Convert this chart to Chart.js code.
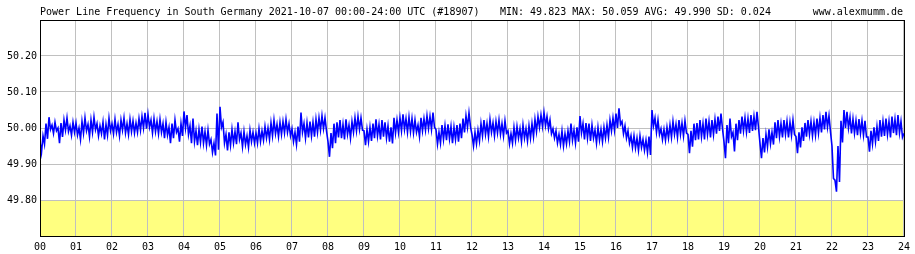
<!DOCTYPE html>
<html>
<head>
<meta charset="utf-8">
<script src="https://cdn.jsdelivr.net/npm/chart.js@4/dist/chart.umd.min.js"></script>
<style>
  html, body { margin: 0; padding: 0; background: #ffffff; }
  #wrap { width: 915px; height: 254px; }
</style>
</head>
<body>
<div id="wrap"><canvas id="c" width="915" height="254"></canvas></div>
<script>
// ---- texts ----
const titleText = 'Power Line Frequency in South Germany 2021-10-07 00:00-24:00 UTC (#18907)';
const statsText = 'MIN: 49.823 MAX: 50.059 AVG: 49.990 SD: 0.024';
const siteText = 'www.alexmumm.de';

// ---- axis tick labels ----
const hourLabels = ['00','01','02','03','04','05','06','07','08','09','10','11','12',
                    '13','14','15','16','17','18','19','20','21','22','23','24'];
const yTickValues = [49.80, 49.90, 50.00, 50.10, 50.20];
const limitValue = 49.80; // top of the yellow band

// ---- frequency (Hz): upper / lower edge of the noisy trace, one value per 5 minutes (12 per hour) ----
const bandHigh = [
  49.962,49.978,50.012,50.030,50.008,50.016,50.000,50.014,50.022,50.028,50.006,50.016, // 00
  50.014,50.000,50.018,50.028,50.010,50.022,50.030,50.012,50.006,50.016,50.010,50.027, // 01
  50.012,50.024,50.010,50.022,50.028,50.012,50.024,50.020,50.014,50.026,50.032,50.042, // 02
  50.038,50.022,50.026,50.018,50.024,50.012,50.016,50.002,50.012,50.022,49.998,50.012, // 03
  50.046,50.036,50.006,50.026,49.992,49.996,50.004,49.990,49.994,49.968,49.958,50.040, // 04
  50.059,50.016,49.982,49.988,49.996,49.990,50.016,49.986,49.990,49.978,49.994,49.988, // 05
  49.986,49.998,49.992,50.004,50.000,50.014,50.022,50.010,50.016,50.018,50.024,50.012, // 06
  49.998,49.988,50.004,50.043,50.012,50.014,50.018,50.016,50.024,50.028,50.034,50.028, // 07
  49.962,49.986,50.012,50.016,50.022,50.010,50.024,50.008,50.018,50.028,50.032,50.028, // 08
  49.992,49.996,50.002,50.012,50.024,50.010,50.022,50.016,50.006,50.002,50.028,50.022, // 09
  50.028,50.038,50.026,50.030,50.026,50.022,50.008,50.028,50.026,50.034,50.032,50.043, // 10
  49.996,49.988,50.008,50.006,50.010,50.004,50.002,50.008,50.012,50.026,50.034,50.042, // 11
  49.982,49.988,49.994,50.012,50.022,50.012,50.024,50.014,50.018,50.022,50.012,50.020, // 12
  49.992,49.984,50.002,50.004,49.998,50.008,49.998,50.006,50.012,50.024,50.032,50.036, // 13
  50.043,50.032,50.022,49.998,49.992,49.982,49.992,49.984,49.992,50.012,49.994,50.002, // 14
  50.033,50.012,50.014,50.012,50.008,49.994,50.002,49.996,50.002,50.008,50.022,50.028, // 15
  50.040,50.055,50.018,50.006,49.992,49.978,49.978,49.972,49.978,49.968,49.966,49.976, // 16
  50.050,50.028,50.022,49.998,49.996,50.002,50.008,50.018,50.010,50.022,50.014,50.020, // 17
  49.982,49.992,50.012,50.014,50.022,50.012,50.026,50.018,50.022,50.024,50.032,50.040, // 18
  49.962,50.008,50.026,49.988,50.012,50.022,50.032,50.028,50.026,50.036,50.032,50.045, // 19
  49.958,49.972,49.982,49.996,49.988,50.016,50.022,50.012,50.022,50.018,50.016,50.022, // 20
  49.976,49.988,50.002,50.014,50.022,50.018,50.016,50.026,50.028,50.036,50.045,50.034, // 21
  49.950,49.855,49.950,50.020,50.050,50.045,50.030,50.025,50.020,50.025,50.020,50.020, // 22
  49.975,49.992,50.002,50.004,50.022,50.018,50.026,50.018,50.032,50.024,50.036,50.018  // 23
];
const bandLow = [
  49.932,49.955,49.970,49.996,49.985,49.992,49.958,49.975,49.994,49.990,49.980,49.988, // 00
  49.980,49.968,49.985,49.992,49.976,49.988,49.995,49.978,49.984,49.968,49.980,49.992, // 01
  49.984,49.988,49.978,49.994,49.986,49.982,49.990,49.986,49.988,49.994,50.000,49.998, // 02
  50.002,49.986,49.990,49.984,49.988,49.972,49.980,49.958,49.972,49.988,49.962,49.978, // 03
  50.000,49.982,49.958,49.962,49.952,49.960,49.958,49.952,49.955,49.932,49.924,49.940, // 04
  50.002,49.958,49.938,49.952,49.958,49.955,49.968,49.948,49.954,49.946,49.962,49.958, // 05
  49.958,49.962,49.966,49.972,49.968,49.978,49.984,49.976,49.982,49.986,49.988,49.978, // 06
  49.962,49.954,49.962,49.988,49.972,49.974,49.978,49.976,49.988,49.994,49.998,49.992, // 07
  49.920,49.944,49.958,49.974,49.972,49.968,49.982,49.972,49.988,49.992,49.996,49.994, // 08
  49.952,49.962,49.964,49.972,49.978,49.968,49.976,49.972,49.962,49.957,49.986,49.988, // 09
  49.992,49.996,49.988,49.990,49.986,49.988,49.976,49.992,49.994,49.998,49.996,50.002, // 10
  49.955,49.958,49.968,49.966,49.970,49.958,49.968,49.962,49.972,49.988,50.002,50.004, // 11
  49.950,49.956,49.964,49.978,49.982,49.976,49.988,49.978,49.986,49.982,49.978,49.986, // 12
  49.956,49.958,49.966,49.972,49.962,49.972,49.964,49.972,49.976,49.990,50.002,50.004, // 13
  50.006,49.998,49.984,49.972,49.958,49.954,49.950,49.956,49.962,49.966,49.958,49.962, // 14
  49.986,49.968,49.972,49.964,49.972,49.958,49.966,49.962,49.972,49.974,49.992,49.994, // 15
  50.000,50.010,49.984,49.972,49.958,49.946,49.944,49.938,49.946,49.938,49.932,49.925, // 16
  50.006,49.988,49.982,49.968,49.966,49.972,49.974,49.982,49.974,49.982,49.978,49.986, // 17
  49.930,49.948,49.966,49.968,49.976,49.968,49.982,49.974,49.982,49.984,49.992,49.998, // 18
  49.916,49.958,49.976,49.935,49.966,49.984,49.992,49.988,49.986,49.992,49.994,50.002, // 19
  49.916,49.932,49.948,49.956,49.954,49.972,49.976,49.974,49.982,49.974,49.980,49.982, // 20
  49.930,49.946,49.964,49.976,49.982,49.978,49.980,49.986,49.988,49.996,50.002,49.990, // 21
  49.860,49.823,49.850,49.960,50.000,50.000,49.985,49.985,49.980,49.985,49.980,49.975, // 22
  49.934,49.956,49.962,49.964,49.976,49.978,49.982,49.974,49.986,49.980,49.986,49.974  // 23
];
const endValue = 49.985; // value at 24:00

// ---- build the point table (x in hours) ----
const points = [];
for (let i = 0; i < bandHigh.length; i++) {
  const t = i / 12;
  points.push({ x: t, y: bandHigh[i] });
  points.push({ x: t + 1 / 24, y: bandLow[i] });
}
points.push({ x: 24, y: endValue });

const MONO = '"DejaVu Sans Mono", "Liberation Mono", monospace';

const decor = {
  id: 'decor',
  beforeDraw(chart) {
    const ctx = chart.ctx;
    const { left, right, top, bottom } = chart.chartArea;
    const ys = chart.scales.y;
    ctx.save();
    ctx.fillStyle = '#ffffff';
    ctx.fillRect(0, 0, chart.width, chart.height);
    const yTop = ys.getPixelForValue(limitValue);
    ctx.fillStyle = '#ffff80';
    ctx.fillRect(left, yTop, right - left, bottom - yTop);
    ctx.restore();
  },
  afterDraw(chart) {
    const ctx = chart.ctx;
    const { left, right, top, bottom } = chart.chartArea;
    ctx.save();
    ctx.strokeStyle = '#000000';
    ctx.lineWidth = 1;
    ctx.strokeRect(Math.round(left) + 0.5, Math.round(top) + 0.5,
                   Math.round(right - left), Math.round(bottom - top));
    ctx.fillStyle = '#000000';
    ctx.font = '10px ' + MONO;
    ctx.textBaseline = 'middle';
    ctx.textAlign = 'left';
    ctx.fillText(titleText, left, 12);
    ctx.fillText(statsText, 500, 12);
    ctx.textAlign = 'right';
    ctx.fillText(siteText, right - 1, 12);
    ctx.restore();
  }
};

new Chart(document.getElementById('c'), {
  type: 'line',
  data: {
    datasets: [{
      data: points,
      borderColor: '#0000ff',
      borderWidth: 1.6,
      pointRadius: 0,
      tension: 0,
      fill: false
    }]
  },
  options: {
    responsive: false,
    animation: false,
    events: [],
    parsing: false,
    normalized: true,
    layout: { padding: { left: 0, right: 11, top: 20, bottom: 0 } },
    plugins: { legend: { display: false }, tooltip: { enabled: false }, title: { display: false } },
    scales: {
      x: {
        type: 'linear',
        min: 0, max: 24,
        afterFit(s) { s.height = 18; },
        afterBuildTicks(s) { s.ticks = hourLabels.map((_, i) => ({ value: i })); },
        grid: { color: '#c0c0c0', lineWidth: 1, drawTicks: false },
        border: { display: false },
        ticks: {
          autoSkip: false, maxRotation: 0, padding: 5,
          color: '#000000',
          font: { family: MONO, size: 10 },
          callback: (v) => hourLabels[Math.round(v)]
        }
      },
      y: {
        type: 'linear',
        min: 49.70, max: 50.30,
        afterFit(s) { s.width = 40; },
        afterBuildTicks(s) {
          s.ticks = [{ value: 49.70 }].concat(yTickValues.map(v => ({ value: v })), [{ value: 50.30 }]);
        },
        grid: { color: '#c0c0c0', lineWidth: 1, drawTicks: false },
        border: { display: false },
        ticks: {
          padding: 3,
          color: '#000000',
          font: { family: MONO, size: 10 },
          callback: (v) => yTickValues.some(t => Math.abs(t - v) < 1e-6) ? v.toFixed(2) : ''
        }
      }
    }
  },
  plugins: [decor]
});
</script>
</body>
</html>
